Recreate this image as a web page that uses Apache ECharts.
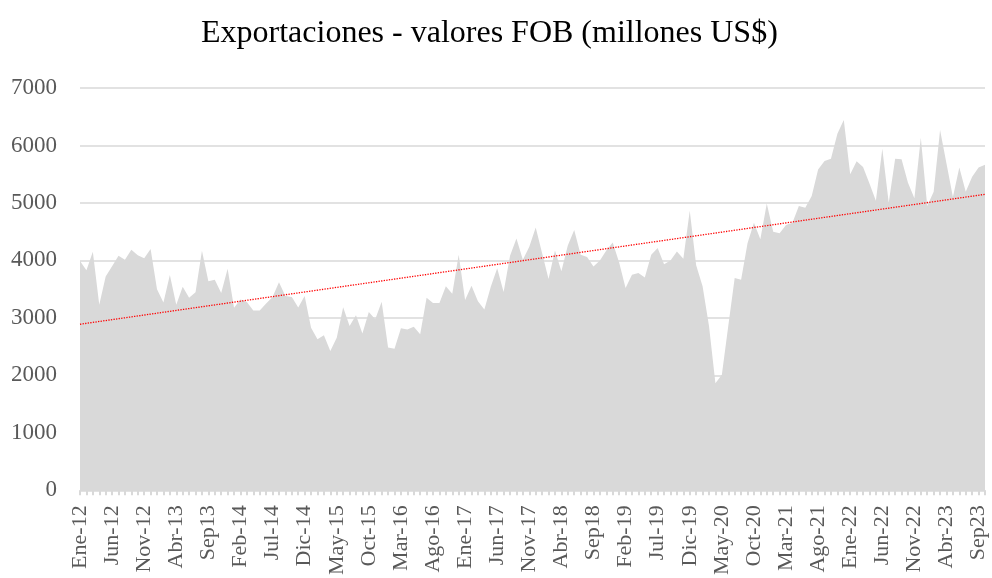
<!DOCTYPE html>
<html>
<head>
<meta charset="utf-8">
<script src="https://cdn.jsdelivr.net/npm/echarts@6/dist/echarts.min.js"></script>
<style>
  html, body { margin: 0; padding: 0; background: #fff; }
  #chart { width: 992px; height: 578px; }
</style>
</head>
<body>
<div id="chart"></div>
<script>
// meses y años (Ene-12 ... Oct-23)
var meses = ['Ene', 'Feb', 'Mar', 'Abr', 'May', 'Jun', 'Jul', 'Ago', 'Sep', 'Oct', 'Nov', 'Dic'];
var anios = ['12', '13', '14', '15', '16', '17', '18', '19', '20', '21', '22', '23'];
var ultimoMes = 9; // Oct-23

// exportaciones FOB mensuales (millones US$)
var exportaciones = [
    3990, 3830, 4150, 3230, 3720, 3900, 4080, 4010, 4185, 4090, 4040, 4200,
    3500, 3270, 3745, 3230, 3540, 3350, 3445, 4170, 3640, 3665, 3435, 3855,
    3175, 3320, 3275, 3130, 3130, 3250, 3365, 3620, 3380, 3365, 3180, 3380,
    2830, 2630, 2700, 2425, 2655, 3185, 2860, 3045, 2730, 3105, 2975, 3280,
    2485, 2465, 2820, 2800, 2845, 2715, 3350, 3260, 3260, 3550, 3420, 4100,
    3310, 3560, 3290, 3145, 3540, 3865, 3450, 4080, 4380, 4010, 4240, 4575,
    4125, 3675, 4175, 3810, 4260, 4530, 4100, 4060, 3895, 4000, 4175, 4310,
    3965, 3520, 3750, 3780, 3705, 4100, 4215, 3935, 4000, 4155, 4030, 4865,
    3915, 3550, 2860, 1865, 2010, 2860, 3695, 3665, 4300, 4655, 4370, 4990,
    4500, 4475, 4615, 4655, 4945, 4915, 5120, 5580, 5730, 5770, 6205, 6445,
    5500, 5725, 5625, 5340, 5040, 5945, 5005, 5770, 5760, 5350, 5080, 6135,
    4945, 5195, 6270, 5685, 5105, 5615, 5195, 5455, 5615, 5665
];

// línea de tendencia (extremos)
var tendencia = [2890, 5150];

var categorias = [];
anios.forEach(function (a, ai) {
    meses.forEach(function (m, mi) {
        if (ai === anios.length - 1 && mi > ultimoMes) return;
        categorias.push(m === 'Sep' ? m + a : m + '-' + a);
    });
});

var fuente = 'Liberation Serif, Times New Roman, serif';

var myChart = echarts.init(document.getElementById('chart'));
var option = {
    animation: false,
    title: {
        text: 'Exportaciones - valores FOB (millones US$)',
        left: 196,
        top: 13,
        textStyle: {
            fontFamily: fuente,
            fontSize: 32,
            fontWeight: 'normal',
            color: '#000'
        }
    },
    grid: {
        left: 80,
        right: 7,
        top: 88,
        bottom: 86
    },
    xAxis: {
        type: 'category',
        boundaryGap: false,
        data: categorias,
        axisLine: { lineStyle: { color: '#d9d9d9' } },
        axisTick: {
            interval: 0,
            length: 5,
            lineStyle: { color: '#d9d9d9', width: 2 }
        },
        axisLabel: {
            interval: 4,
            rotate: 90,
            margin: 15,
            fontFamily: fuente,
            fontSize: 22,
            color: '#595959'
        }
    },
    yAxis: {
        type: 'value',
        min: 0,
        max: 7000,
        interval: 1000,
        axisLine: { show: false },
        axisTick: { show: false },
        axisLabel: {
            margin: 23,
            fontFamily: fuente,
            fontSize: 23,
            color: '#595959',
            formatter: function (v) { return String(v); }
        },
        splitLine: { lineStyle: { color: '#d9d9d9', width: 1.5 } }
    },
    series: [
        {
            name: 'Exportaciones',
            type: 'line',
            data: exportaciones,
            symbol: 'none',
            lineStyle: { width: 0 },
            areaStyle: { color: '#d9d9d9', opacity: 1 },
            z: 2,
            markLine: {
                silent: true,
                symbol: ['none', 'none'],
                label: { show: false },
                lineStyle: { color: '#ff0000', type: 'dotted', width: 1.3 },
                data: [[
                    { coord: [categorias[0], tendencia[0]] },
                    { coord: [categorias[categorias.length - 1], tendencia[1]] }
                ]]
            }
        }
    ]
};
myChart.setOption(option);
window.addEventListener('resize', function () {
    myChart.resize();
});
</script>
</body>
</html>
